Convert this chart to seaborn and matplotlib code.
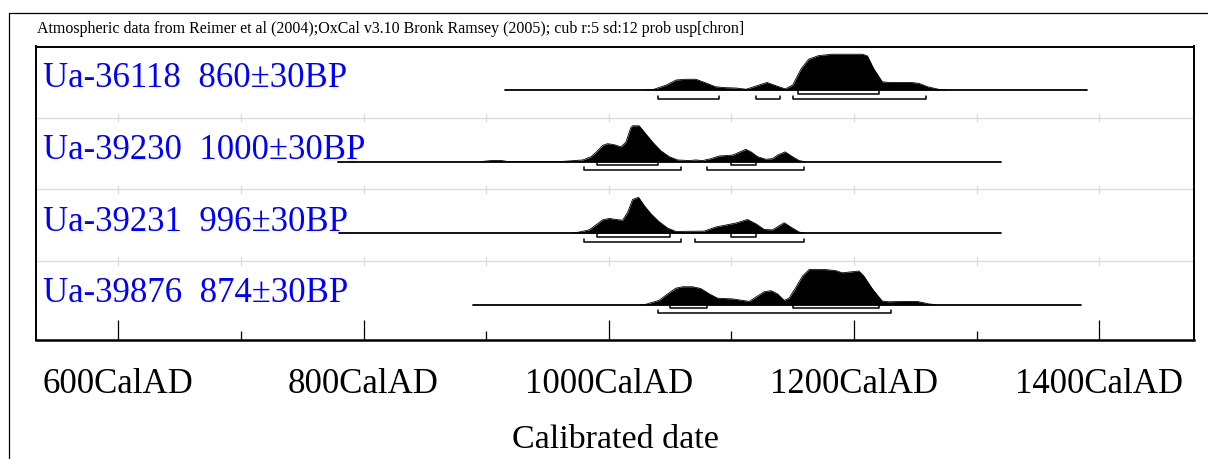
import matplotlib
matplotlib.use('Agg')
import matplotlib.pyplot as plt
from matplotlib.lines import Line2D
import numpy as np
import pandas as pd
import seaborn as sns

labels = ['Ua-36118  860±30BP', 'Ua-39230  1000±30BP',
          'Ua-39231  996±30BP', 'Ua-39876  874±30BP']

# calibration range drawn as the base line of each row
line_start = [915, 779, 780, 889]
line_end = [1390, 1320, 1320, 1385]

years_36118 = [1030, 1036, 1047, 1055, 1063, 1071, 1079, 1087, 1095, 1104, 1112, 1120,
               1129, 1137, 1144, 1150, 1157, 1163, 1171, 1182, 1207, 1211, 1216, 1223,
               1229, 1247, 1253, 1260, 1269, 1275]
prob_36118 = [0, 0.01, 0.14, 0.28, 0.30, 0.30, 0.20, 0.09, 0.065, 0.055, 0.02, 0.11,
              0.21, 0.11, 0.03, 0.14, 0.60, 0.86, 0.96, 1.0, 1.0, 0.95, 0.60, 0.23,
              0.21, 0.21, 0.185, 0.09, 0.02, 0]

years_39230 = [896, 905, 912, 918, 960, 965, 979, 985.5, 990, 995, 999, 1004.5, 1010,
               1014, 1018, 1019.4, 1024.8, 1030.3, 1035.7, 1042.5, 1049.3, 1056, 1065.6,
               1071, 1076.4, 1083.3, 1090, 1101, 1106.3, 1111.8, 1116, 1121.3, 1128,
               1133.5, 1137.6, 1143.8, 1149.8, 1155.2, 1159.3]
prob_39230 = [0, 0.03, 0.03, 0, 0, 0.01, 0.045, 0.136, 0.27, 0.45, 0.5, 0.47, 0.41,
              0.545, 0.95, 1.0, 1.0, 0.77, 0.545, 0.30, 0.136, 0.045, 0.027,
              0.045, 0.027, 0.08, 0.155, 0.18, 0.26, 0.34, 0.27, 0.136, 0.064,
              0.08, 0.18, 0.27, 0.136, 0.027, 0]

years_39231 = [970, 976, 984, 989.6, 995, 1000.4, 1006, 1011.3, 1015.4, 1019.4, 1024.3,
               1028.9, 1034.4, 1041, 1048, 1054.7, 1077.8, 1087.3, 1103.6, 1113.1, 1120,
               1126.7, 1133.5, 1143, 1149.8, 1155.2, 1159.3]
prob_39231 = [0, 0.03, 0.09, 0.23, 0.37, 0.41, 0.38, 0.36, 0.58, 0.94, 1.0,
              0.77, 0.54, 0.32, 0.14, 0.046, 0.055, 0.17, 0.28, 0.38, 0.26,
              0.10, 0.09, 0.29, 0.14, 0.03, 0]

years_39876 = [1025, 1030.3, 1041, 1048, 1054.7, 1060.2, 1068.3, 1075, 1082, 1088.7, 1101,
               1114.5, 1121.3, 1126.7, 1132.2, 1137.6, 1143, 1147, 1152.5, 1158, 1163.4,
               1177, 1185, 1190.5, 1196, 1204, 1208, 1215, 1223, 1228.5, 1239, 1251.6,
               1261, 1266.6]
prob_39876 = [0, 0.01, 0.12, 0.30, 0.46, 0.50, 0.50, 0.45, 0.30, 0.18, 0.16,
              0.09, 0.24, 0.36, 0.39, 0.30, 0.12, 0.18, 0.48, 0.80, 0.98,
              0.98, 0.95, 0.89, 0.91, 0.94, 0.80, 0.44, 0.10, 0.08, 0.09, 0.09,
              0.02, 0]

# 68.2% and 95.4% ranges
range68 = [[(1154, 1220)],
           [(990, 1040), (1100, 1120)],
           [(990, 1050), (1100, 1120)],
           [(1050, 1080), (1150, 1220)]]
range95 = [[(1040, 1090), (1120, 1140), (1150, 1259)],
           [(980, 1059), (1080, 1159)],
           [(980, 1059), (1070, 1159)],
           [(1040, 1230)]]

years_all = [years_36118, years_39230, years_39231, years_39876]
prob_all = [prob_36118, prob_39230, prob_39231, prob_39876]

major_ticks = [600, 800, 1000, 1200, 1400]
minor_ticks = [700, 900, 1100, 1300]
tick_labels = ['600CalAD', '800CalAD', '1000CalAD', '1200CalAD', '1400CalAD']
title = ('Atmospheric data from Reimer et al (2004);OxCal v3.10 Bronk Ramsey (2005); '
         'cub r:5 sd:12 prob usp[chron]')

# ── Style ───────────────────────────────────────────────────────
sns.set_style('white')
plt.rcParams['font.family'] = ['Liberation Serif', 'DejaVu Serif']
plt.rcParams['text.color'] = 'black'
plt.rcParams['xtick.color'] = 'black'
plt.rcParams['xtick.labelcolor'] = 'black'

W, H = 1208, 459
fig = plt.figure(figsize=(W / 100, H / 100), dpi=100)
ax = fig.add_axes([36 / W, 1 - 339.7 / H, (1194.3 - 36) / W, (339.7 - 46.5) / H])

PEAK = 0.50      # height of a full peak, in row units
grid_off = 0.39  # grey separator below each base line

# grey separators with small ticks every century
for k in range(3):
    gy = k + grid_off
    ax.axhline(gy, color='#dddddd', lw=1.0, zorder=0)
    for t in range(600, 1500, 100):
        ax.plot([t, t], [gy - 0.055, gy + 0.05], color='#dddddd', lw=1.0, zorder=0)

for k in range(4):
    df = pd.DataFrame({'year': years_all[k], 'p': prob_all[k]})
    df['y'] = k - PEAK * df['p']
    ax.fill_between(df['year'], k, df['y'], color='black', lw=0, zorder=2)
    sns.lineplot(data=df, x='year', y='y', ax=ax, color='black', lw=0.6,
                 estimator=None, sort=False, zorder=2)
    base = pd.DataFrame({'year': [line_start[k], line_end[k]], 'y': [k, k]})
    sns.lineplot(data=base, x='year', y='y', ax=ax, color='black', lw=1.3,
                 estimator=None, zorder=3)

    # range brackets
    for rng, off in ((range68[k], 0.05), (range95[k], 0.12)):
        for a, b in rng:
            yb = k + off
            ax.plot([a, a, b, b], [yb - 0.04, yb, yb, yb - 0.04],
                    color='black', lw=1.1, zorder=3)

    ax.text(538.5, k - 0.035, labels[k], color='#0000ff', fontsize=25,
            va='baseline', ha='left', zorder=4)

ax.set_xlim(532.9, 1477.5)
ax.set_ylim(3.49, -0.608)
ax.set_yticks([])
ax.set_xticks(major_ticks)
ax.set_xticklabels(tick_labels, fontsize=25, color='black')
ax.set_xticks(minor_ticks, minor=True)
ax.tick_params(axis='x', which='major', direction='in', length=14.4, width=0.9,
               color='black', pad=20.5, bottom=True)
ax.tick_params(axis='x', which='minor', direction='in', length=6.8, width=0.9,
               color='black', bottom=True)
ax.set_xlabel('')
ax.set_ylabel('')
for side, sp in ax.spines.items():
    sp.set_visible(True)
    sp.set_color('black')
    sp.set_linewidth(1.4)
ax.spines['bottom'].set_linewidth(1.8)

fig.text(615 / W, 1 - 448 / H, 'Calibrated date', fontsize=24.5, color='black',
         ha='center', va='baseline')
fig.text(37 / W, 1 - 33.3 / H, title, fontsize=11.5, color='black',
         ha='left', va='baseline')

# outer border of the OxCal page
fig.add_artist(Line2D([9.3 / W, 1.0], [1 - 12.7 / H, 1 - 12.7 / H],
                      transform=fig.transFigure, color='black', lw=0.9))
fig.add_artist(Line2D([9.3 / W, 9.3 / W], [0, 1 - 12.7 / H],
                      transform=fig.transFigure, color='black', lw=0.9))

fig.savefig('out.png', dpi=100)
